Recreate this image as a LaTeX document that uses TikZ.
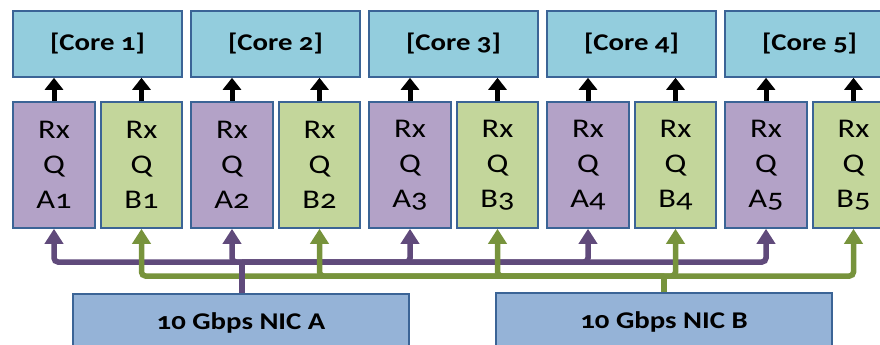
\documentclass[tikz,border=0pt]{standalone}
\usepackage{fontspec}
\setmainfont{Carlito}[Numbers=OldStyle, FakeStretch=1.2]
\usetikzlibrary{arrows.meta}
\definecolor{coreFill}{HTML}{93CDDD}
\definecolor{boxLine}{HTML}{3B6496}
\definecolor{qaFill}{HTML}{B3A2C7}
\definecolor{qbFill}{HTML}{C3D69B}
\definecolor{nicFill}{HTML}{95B3D7}
\definecolor{busA}{HTML}{604A7B}
\definecolor{busB}{HTML}{77933C}
\tikzset{
  x=1pt, y=-1pt,
  corebox/.style={draw=boxLine, line width=1.6pt, fill=coreFill, minimum width=169pt,
    minimum height=66pt, inner sep=0pt, font=\bfseries\fontsize{24}{28}\selectfont},
  qbox/.style={draw=boxLine, line width=1.6pt, minimum height=126pt, inner sep=0pt,
    align=center, font=\fontsize{27}{35}\selectfont},
  qa/.style={qbox, fill=qaFill, minimum width=82pt},
  qb/.style={qbox, fill=qbFill, minimum width=81pt},
  nic/.style={draw=boxLine, line width=1.6pt, fill=nicFill, minimum width=336pt,
    minimum height=58pt, inner sep=0pt, font=\bfseries\fontsize{24}{28}\selectfont},
  uparrow/.style={line width=5pt, -{Triangle[width=18pt,length=12pt]}},
  feed/.style={line width=5.5pt, rounded corners=4pt, -{Triangle[width=18pt,length=15pt]}},
}
\begin{document}
\begin{tikzpicture}
\useasboundingbox (0,0) rectangle (880,345);
\clip (0,0) rectangle (880,345);
% cores and their two receive queues
\foreach \i in {1,...,5}{
  \pgfmathsetmacro{\dx}{178*(\i-1)}
  \node[corebox] (core\i) at (97.5+\dx,44) {[Core \i]};
  \node[qa] (qa\i) at (54+\dx,165) {Rx\\Q\\A\i};
  \node[qb] (qb\i) at (141.5+\dx,165) {Rx\\Q\\B\i};
  \draw[uparrow] (qa\i.north) -- (qa\i.north |- core\i.south);
  \draw[uparrow] (qb\i.north) -- (qb\i.north |- core\i.south);
}
% network cards
\node[nic] (nicA) at (241,323) {10 Gbps NIC A};
\node[nic] (nicB) at (664,322) {10 Gbps NIC B};
\coordinate (tapA) at (242,262);
\coordinate (tapB) at (664,276);
% NIC A feeds the A queues
\foreach \i in {1,...,5}{
  \draw[feed, color=busA] (tapA) -| (qa\i.south);
}
% NIC B feeds the B queues
\foreach \i in {1,...,5}{
  \draw[feed, color=busB] (tapB) -| (qb\i.south);
}
\draw[line width=5.5pt, color=busB] (nicB.north -| tapB) -- (tapB);
\draw[line width=5.5pt, color=busA] (nicA.north -| tapA) -- (tapA);
\end{tikzpicture}
\end{document}
